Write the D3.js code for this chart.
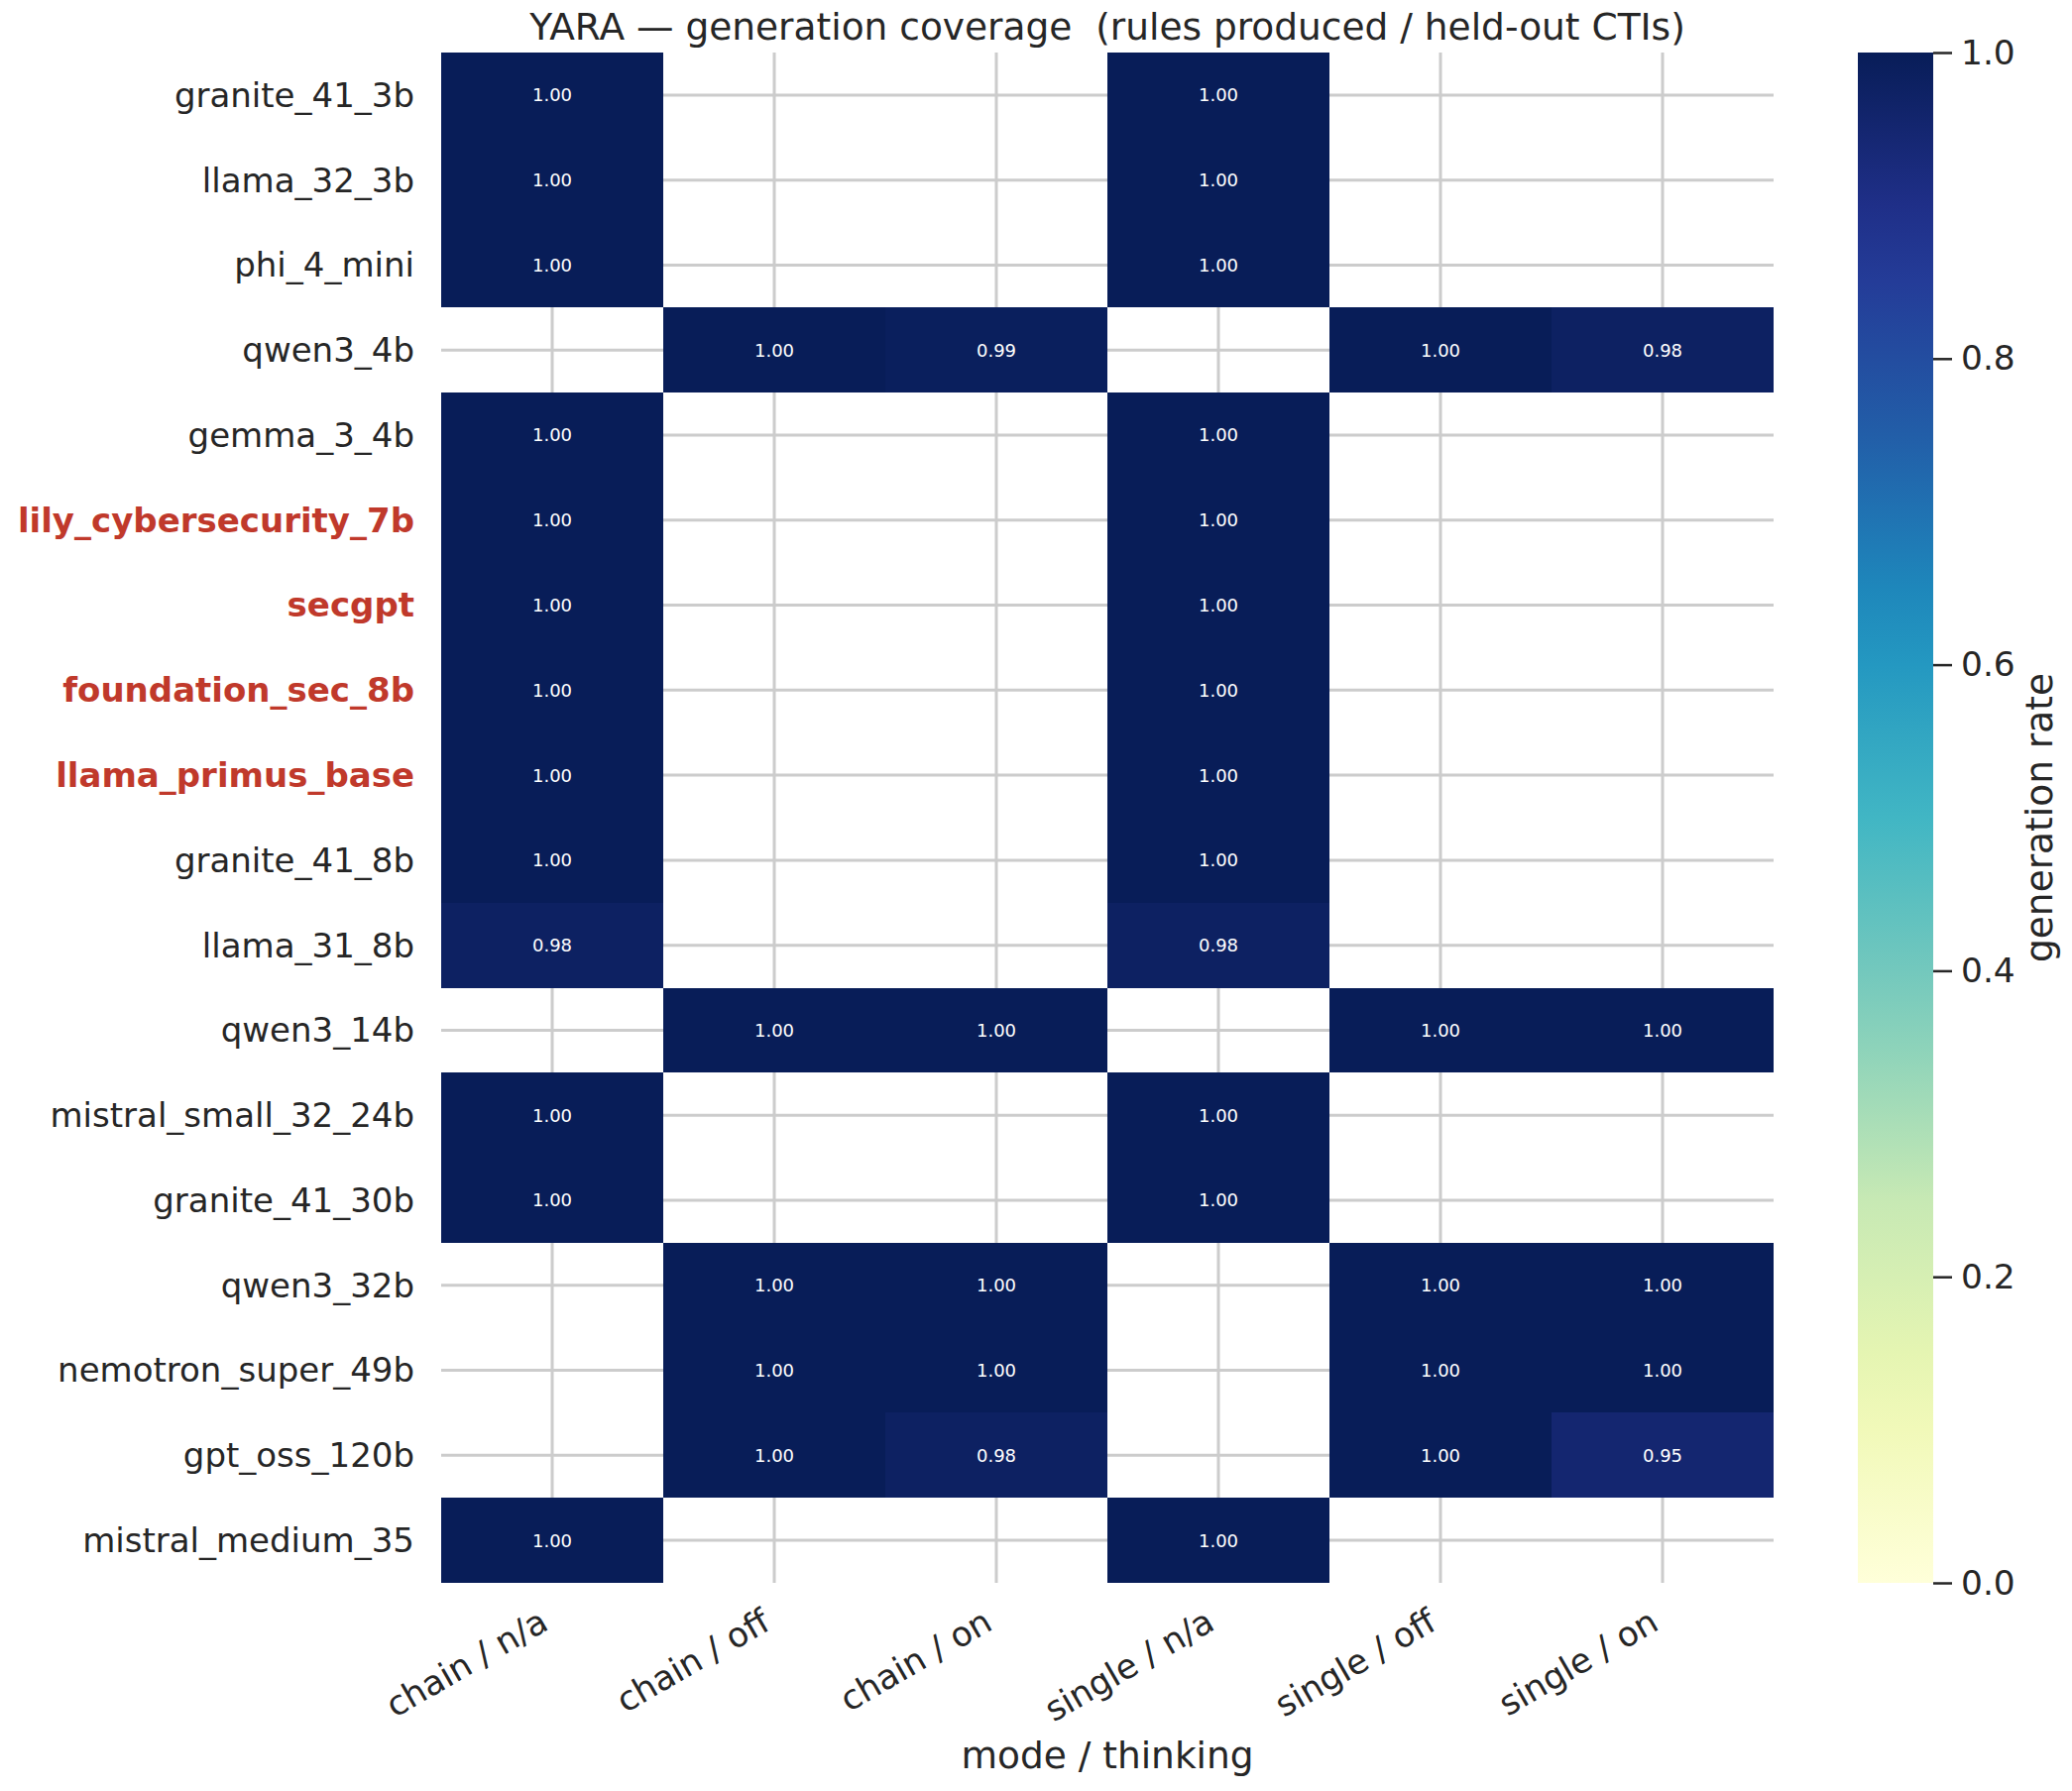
<!DOCTYPE html>
<html>
<head>
<meta charset="utf-8">
<script src="https://cdn.jsdelivr.net/npm/d3@7"></script>
<style>
  body { margin: 0; background: #fff; }
  svg { display: block; font-family: "DejaVu Sans", sans-serif; }
</style>
</head>
<body>
<svg id="chart" width="2090" height="1807"></svg>
<script>
// row labels (models), top to bottom
var models = ["granite_41_3b", "llama_32_3b", "phi_4_mini", "qwen3_4b", "gemma_3_4b",
  "lily_cybersecurity_7b", "secgpt", "foundation_sec_8b", "llama_primus_base",
  "granite_41_8b", "llama_31_8b", "qwen3_14b", "mistral_small_32_24b", "granite_41_30b",
  "qwen3_32b", "nemotron_super_49b", "gpt_oss_120b", "mistral_medium_35"];

// security-tuned models get highlighted labels
var secModels = ["lily_cybersecurity_7b", "secgpt", "foundation_sec_8b", "llama_primus_base"];

var columns = ["chain / n/a", "chain / off", "chain / on", "single / n/a", "single / off", "single / on"];

// generation rate per model, one entry per column (null = not run)
var chainNa   = [1.00, 1.00, 1.00, null, 1.00, 1.00, 1.00, 1.00, 1.00, 1.00, 0.98, null, 1.00, 1.00, null, null, null, 1.00];
var chainOff  = [null, null, null, 1.00, null, null, null, null, null, null, null, 1.00, null, null, 1.00, 1.00, 1.00, null];
var chainOn   = [null, null, null, 0.99, null, null, null, null, null, null, null, 1.00, null, null, 1.00, 1.00, 0.98, null];
var singleNa  = [1.00, 1.00, 1.00, null, 1.00, 1.00, 1.00, 1.00, 1.00, 1.00, 0.98, null, 1.00, 1.00, null, null, null, 1.00];
var singleOff = [null, null, null, 1.00, null, null, null, null, null, null, null, 1.00, null, null, 1.00, 1.00, 1.00, null];
var singleOn  = [null, null, null, 0.98, null, null, null, null, null, null, null, 1.00, null, null, 1.00, 1.00, 0.95, null];

var colorTicks = [0.0, 0.2, 0.4, 0.6, 0.8, 1.0];

var seriesByCol = [chainNa, chainOff, chainOn, singleNa, singleOff, singleOn];

var cells = [];
models.forEach(function(m, i) {
  columns.forEach(function(c, j) {
    var v = seriesByCol[j][i];
    if (v !== null) cells.push({model: m, col: c, value: v});
  });
});

var svg = d3.select("#chart");
var plotLeft = 445, plotRight = 1789, plotTop = 53, plotBottom = 1597;
var textColor = "#262626";

// YlGnBu, piecewise linear through the ColorBrewer stops (like matplotlib)
var ylgnbu = ["#ffffd9", "#edf8b1", "#c7e9b4", "#7fcdbb", "#41b6c4", "#1d91c0", "#225ea8", "#253494", "#081d58"];
var color = d3.scaleLinear()
  .domain(d3.range(ylgnbu.length).map(function(i) { return i / (ylgnbu.length - 1); }))
  .range(ylgnbu)
  .interpolate(d3.interpolateRgb);

var x = d3.scaleBand().domain(columns).range([plotLeft, plotRight]);
var y = d3.scaleBand().domain(models).range([plotTop, plotBottom]);

// grid lines (under the cells)
var grid = svg.append("g").attr("stroke", "#cccccc").attr("stroke-width", 3);
grid.selectAll(".vgrid").data(columns).enter().append("line")
  .attr("x1", function(d) { return x(d) + x.bandwidth() / 2; })
  .attr("x2", function(d) { return x(d) + x.bandwidth() / 2; })
  .attr("y1", plotTop).attr("y2", plotBottom);
grid.selectAll(".hgrid").data(models).enter().append("line")
  .attr("y1", function(d) { return y(d) + y.bandwidth() / 2; })
  .attr("y2", function(d) { return y(d) + y.bandwidth() / 2; })
  .attr("x1", plotLeft).attr("x2", plotRight);

// cells, snapped to whole pixels so neighbours don't show seams
svg.append("g").attr("shape-rendering", "crispEdges")
  .selectAll("rect").data(cells).enter().append("rect")
  .attr("x", function(d) { return Math.round(x(d.col)); })
  .attr("y", function(d) { return Math.round(y(d.model)); })
  .attr("width", function(d) { return Math.round(x(d.col) + x.bandwidth()) - Math.round(x(d.col)); })
  .attr("height", function(d) { return Math.round(y(d.model) + y.bandwidth()) - Math.round(y(d.model)); })
  .attr("fill", function(d) { return color(d.value); });

svg.append("g").selectAll("text").data(cells).enter().append("text")
  .attr("x", function(d) { return x(d.col) + x.bandwidth() / 2; })
  .attr("y", function(d) { return y(d.model) + y.bandwidth() / 2; })
  .attr("dy", "0.36em")
  .attr("text-anchor", "middle")
  .attr("font-size", 18)
  .attr("fill", "#ffffff")
  .text(function(d) { return d.value.toFixed(2); });

// y tick labels
svg.append("g").selectAll("text").data(models).enter().append("text")
  .attr("x", plotLeft - 27)
  .attr("y", function(d) { return y(d) + y.bandwidth() / 2; })
  .attr("dy", "0.35em")
  .attr("text-anchor", "end")
  .attr("font-size", 34)
  .attr("font-weight", function(d) { return secModels.indexOf(d) >= 0 ? "bold" : "normal"; })
  .attr("fill", function(d) { return secModels.indexOf(d) >= 0 ? "#c0392b" : textColor; })
  .text(function(d) { return d; });

// x tick labels, rotated 30 degrees, right aligned
svg.append("g").selectAll("text").data(columns).enter().append("text")
  .attr("transform", function(d) {
    var px = x(d) + x.bandwidth() / 2 - 2, py = plotBottom + 46;
    return "translate(" + px + "," + py + ") rotate(-30)";
  })
  .attr("text-anchor", "end")
  .attr("font-size", 34.4)
  .attr("fill", textColor)
  .text(function(d) { return d; });

svg.append("text")
  .attr("x", (plotLeft + plotRight) / 2).attr("y", 1784)
  .attr("text-anchor", "middle")
  .attr("font-size", 37.5)
  .attr("fill", textColor)
  .text("mode / thinking");

svg.append("text")
  .attr("x", (plotLeft + plotRight) / 2).attr("y", 40)
  .attr("text-anchor", "middle")
  .attr("font-size", 37.5)
  .attr("fill", textColor)
  .style("white-space", "pre")
  .text("YARA \u2014 generation coverage  (rules produced / held-out CTIs)");

// colorbar
var cbLeft = 1874, cbWidth = 76;
var cbScale = d3.scaleLinear().domain([0, 1]).range([plotBottom, plotTop]);
var defs = svg.append("defs");
var grad = defs.append("linearGradient").attr("id", "cbgrad")
  .attr("x1", 0).attr("y1", 1).attr("x2", 0).attr("y2", 0);
grad.selectAll("stop").data(d3.range(0, 1.0001, 0.05)).enter().append("stop")
  .attr("offset", function(d) { return d; })
  .attr("stop-color", function(d) { return color(d); });
svg.append("rect")
  .attr("x", cbLeft).attr("y", plotTop)
  .attr("width", cbWidth).attr("height", plotBottom - plotTop)
  .attr("fill", "url(#cbgrad)");

var cbAxis = svg.append("g")
  .attr("transform", "translate(" + (cbLeft + cbWidth) + ",0)")
  .call(d3.axisRight(cbScale).tickValues(colorTicks).tickFormat(d3.format(".1f"))
    .tickSize(19).tickPadding(9));
cbAxis.select(".domain").remove();
cbAxis.selectAll(".tick line").attr("stroke", textColor).attr("stroke-width", 2.5);
cbAxis.selectAll(".tick text")
  .attr("font-family", "DejaVu Sans")
  .attr("font-size", 34.4)
  .attr("fill", textColor);

svg.append("text")
  .attr("transform", "translate(2070," + ((plotTop + plotBottom) / 2) + ") rotate(-90)")
  .attr("text-anchor", "middle")
  .attr("font-size", 37.5)
  .attr("fill", textColor)
  .text("generation rate");
</script>
</body>
</html>
